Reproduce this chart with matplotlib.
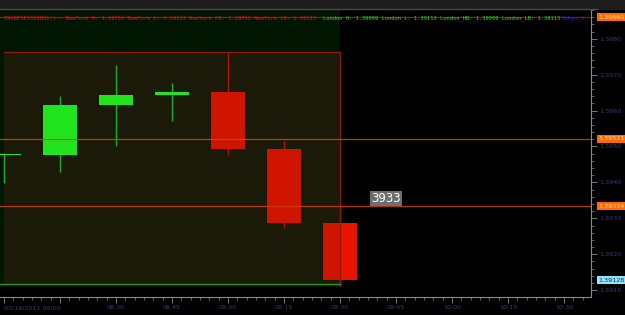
import matplotlib
matplotlib.use('Agg')
import matplotlib.pyplot as plt
import matplotlib.patches as mpatches
import matplotlib.transforms as mtransforms
import numpy as np

# 15 minute candles, 03/16/2011
times = ['08:00', '08:15', '08:30', '08:45', '09:00', '09:15', '09:30']
opens = [1.39475, 1.39475, 1.39616, 1.39644, 1.39652, 1.39494, 1.39286]
highs = [1.39483, 1.39641, 1.39727, 1.39677, 1.39760, 1.39516, 1.39336]
lows = [1.39397, 1.39430, 1.39500, 1.39572, 1.39477, 1.39272, 1.39113]
closes = [1.39476, 1.39616, 1.39644, 1.39652, 1.39494, 1.39286, 1.39128]

# session boxes (start index, end index, high, low)
ny_box = (0, 6, 1.39762, 1.39118)
london_box = (-2, 6, 1.39999, 1.39118)

# x axis labels (one per 15 minutes)
xlabels = ['03/16/2011 08:00', '', '08:30', '08:45', '09:00', '09:15',
           '09:30', '09:45', '10:00', '10:15', '10:30']

# horizontal price lines and their tags
hline_prices = [1.39860, 1.39521, 1.39334]
hline_colors = ['#a82000', '#d04c00', '#d04000']
current_price = 1.39128
counter_text = '3933'
counter_pos = (6.82, 1.39356)

header_red = ('TRADESESSIONS1() - NewYork_H: 1.39752 NewYork_L: 1.39113 '
              'NewYork_HB: 1.39752 NewYork_LB: 1.39113')
header_green = 'London_H: 1.39999 London_L: 1.39113 London_HB: 1.39999 London_LB: 1.39113'
header_blue = 'Tokyo_H'

fig = plt.figure(figsize=(6.25, 3.15), dpi=100, facecolor='black')
ax = fig.add_axes([0, 18 / 315, 591 / 625, 287 / 315])
ax.set_facecolor('black')

# top grey strip
fig.patches.append(mpatches.Rectangle((0, 305 / 315), 1, 10 / 315, transform=fig.transFigure,
                                      facecolor='#1c1c1c', edgecolor='none', zorder=0))
fig.lines.append(plt.Line2D([0, 597 / 625], [306 / 315, 306 / 315], transform=fig.transFigure,
                            color='#4a4a4a', lw=1))

ax.set_xlim(-0.0714, 10.48)
ax.set_ylim(1.39081, 1.39877)

# session boxes
lx0, lx1, lh, ll = london_box
ax.add_patch(mpatches.Rectangle((lx0, ll), lx1 - lx0, lh - ll, facecolor='#001600',
                                edgecolor='none', zorder=0.5))
nx0, nx1, nh, nl = ny_box
ax.add_patch(mpatches.Rectangle((nx0, nl), nx1 - nx0, nh - nl, facecolor='#1b1a08',
                                edgecolor='none', zorder=0.6))

# candles
w = 0.6
for i in range(len(times)):
    o, h, l, c = opens[i], highs[i], lows[i], closes[i]
    col = '#22ff22' if c >= o else '#e81400'
    wick = '#1cc81c' if c >= o else '#c01800'
    ax.plot([i, i], [l, h], color=wick, lw=1, zorder=2, solid_capstyle='butt')
    body = max(abs(c - o), 0.00004)
    ax.add_patch(mpatches.Rectangle((i - w / 2, min(o, c)), w, body, facecolor=col,
                                    edgecolor='none', zorder=2.1))

# slight tint of the NY box over the candles
ax.add_patch(mpatches.Rectangle((nx0, nl), nx1 - nx0, nh - nl, facecolor='#1b1a08',
                                edgecolor='none', alpha=0.12, zorder=3))
# box borders
ax.plot([nx0, nx1], [nh, nh], color='#8c1a00', lw=1, zorder=4)
ax.plot([nx1, nx1], [nl, nh], color='#8c1a00', lw=0.8, zorder=4)
ax.plot([lx0, lx1], [ll, ll], color='#10a010', lw=1, zorder=4.5)

# horizontal lines
for p, c in zip(hline_prices, hline_colors):
    ax.axhline(p, color=c, lw=0.9, alpha=0.85, zorder=5)

# counter label
ax.text(counter_pos[0], counter_pos[1], counter_text, color='white', fontsize=8.5,
        ha='center', va='center', zorder=6,
        bbox=dict(boxstyle='square,pad=0.1', facecolor='#6e6e6e', edgecolor='none'))

# axes styling
for s in ['top', 'left']:
    ax.spines[s].set_visible(False)
ax.spines['right'].set_color('#8a8a8a')
ax.spines['bottom'].set_color('#8a8a8a')
ax.yaxis.tick_right()
ax.set_yticks(np.arange(1.3910, 1.3981, 0.001))
ax.set_yticks(np.arange(1.3910, 1.3988, 0.0002), minor=True)
ax.set_yticklabels(['%.4f' % v for v in np.arange(1.3910, 1.3981, 0.001)])
ax.set_xticks(np.arange(0, 11))
ax.set_xticks(np.arange(0, 10.5, 1 / 6), minor=True)
ax.set_xticklabels(xlabels)
ax.xaxis.get_majorticklabels()[0].set_horizontalalignment('left')
ax.xaxis.get_majorticklabels()[0].set_x(-0.0714)
ax.tick_params(axis='both', which='major', colors='#8a8a8a', labelcolor='#3a3a78',
               labelsize=4.6, length=4, width=0.6, direction='out', pad=2)
ax.tick_params(axis='both', which='minor', colors='#8a8a8a', length=2, width=0.5,
               direction='out')
ax.tick_params(axis='y', pad=2)

# price tags on right axis
trans = mtransforms.blended_transform_factory(ax.transAxes, ax.transData)
for p in hline_prices:
    ax.text(1.012, p, '%.5f' % p, transform=trans, fontsize=4.6, color='#e8e0c0',
            ha='left', va='center', clip_on=False, zorder=7,
            bbox=dict(boxstyle='square,pad=0.2', facecolor='#ff6a00', edgecolor='none'))
ax.text(1.012, current_price, '%.5f' % current_price, transform=trans, fontsize=4.6,
        color='#203040', ha='left', va='center', clip_on=False, zorder=7,
        bbox=dict(boxstyle='square,pad=0.2', facecolor='#8ee4ff', edgecolor='none'))

# header line
hy = 1 - 18 / 315
fig.text(4 / 625, hy, header_red, color='#e01010', fontsize=3.9, family='DejaVu Sans Mono',
         va='center')
fig.text(323 / 625, hy, header_green, color='#20e020', fontsize=3.9,
         family='DejaVu Sans Mono', va='center')
fig.text(562 / 625, hy, header_blue, color='#2020e0', fontsize=3.9,
         family='DejaVu Sans Mono', va='center')

fig.savefig('out.png', dpi=100, facecolor='black')
